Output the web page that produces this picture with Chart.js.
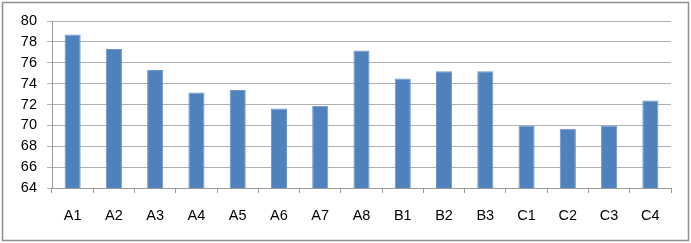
<!DOCTYPE html>
<html>
<head>
<meta charset="utf-8">
<script src="https://cdn.jsdelivr.net/npm/chart.js@4/dist/chart.umd.min.js"></script>
<style>
html,body{margin:0;padding:0;background:#fff;}
#wrap{position:absolute;left:0;top:0;width:691px;height:243px;}
</style>
</head>
<body>
<div id="wrap"><canvas id="c" width="691" height="243"></canvas></div>
<script>
const categories = ["A1","A2","A3","A4","A5","A6","A7","A8","B1","B2","B3","C1","C2","C3","C4"];
const values = [78.7, 77.32, 75.31, 73.15, 73.4, 71.62, 71.87, 77.17, 74.49, 75.19, 75.19, 69.99, 69.67, 70.0, 72.38];
const yMin = 64, yMax = 80, yStep = 2;

const frame = {
  id: 'frame',
  afterDraw(chart) {
    const ctx = chart.ctx;
    ctx.save();
    ctx.strokeStyle = '#8f8f8f';
    ctx.lineWidth = 1.5;
    ctx.strokeRect(2.5, 2.5, 686, 238);
    ctx.restore();
  }
};

new Chart(document.getElementById('c'), {
  type: 'bar',
  data: {
    labels: categories,
    datasets: [{
      data: values,
      backgroundColor: '#4F81BD',
      borderColor: '#6A96CC',
      borderWidth: 1,
      categoryPercentage: 1,
      barPercentage: 0.39
    }]
  },
  plugins: [frame],
  options: {
    responsive: false,
    animation: false,
    layout: { padding: { left: 0, right: 20, top: 21, bottom: 0 } },
    plugins: { legend: { display: false }, tooltip: { enabled: false } },
    scales: {
      x: {
        afterFit(s) { s.height = 55; },
        grid: { offset: true, drawOnChartArea: false, drawTicks: true, tickLength: 5, color: '#9a9a9a' },
        border: { color: '#9a9a9a' },
        ticks: { color: '#000', font: { family: 'Liberation Sans', size: 14.5 }, padding: 14, maxRotation: 0 }
      },
      y: {
        min: yMin, max: yMax,
        afterFit(s) { s.width = 52; },
        grid: { color: '#b0b0b0', tickLength: 5, drawTicks: true },
        border: { color: '#9a9a9a' },
        ticks: { stepSize: yStep, color: '#000', font: { family: 'Liberation Sans', size: 14.5 }, padding: 10 }
      }
    }
  }
});
</script>
</body>
</html>
